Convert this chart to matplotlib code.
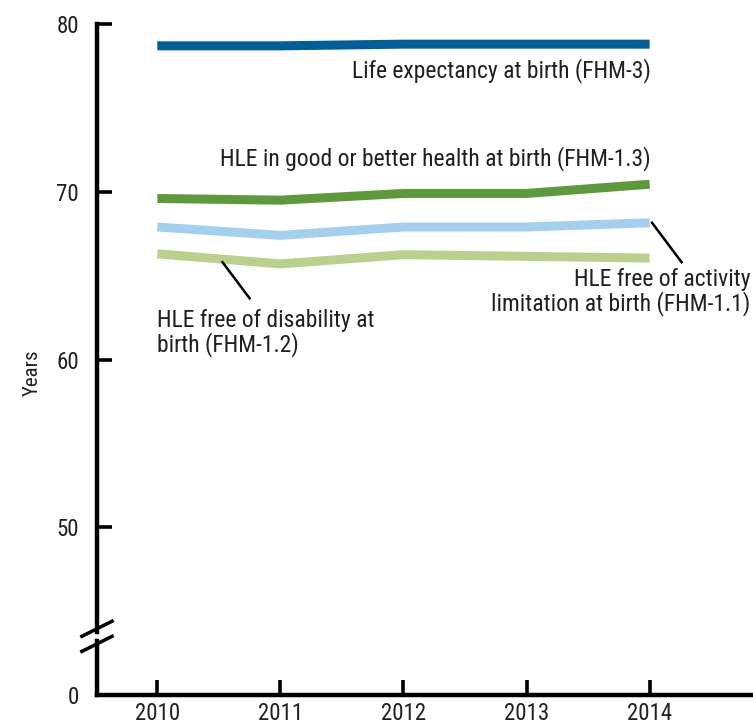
import matplotlib
matplotlib.use("Agg")
import matplotlib.pyplot as plt
from matplotlib import font_manager

years = [2010, 2011, 2012, 2013, 2014]
life_exp = [78.7, 78.7, 78.8, 78.8, 78.8]
hle_good = [69.6, 69.5, 69.9, 69.9, 70.45]
hle_activity = [67.9, 67.4, 67.9, 67.9, 68.15]
hle_disability = [66.3, 65.7, 66.25, 66.15, 66.05]

ytick_pos = [40, 50, 60, 70, 80]      # 40 on the broken axis stands for 0
ytick_labels = ["0", "50", "60", "70", "80"]

TXT = "#231f20"

# pick a narrow font if one is installed
fonts = font_manager.fontManager.ttflist
names = {f.name for f in fonts}
stretch = "normal"
if "Liberation Sans Narrow" in names:
    family = "Liberation Sans Narrow"
elif "Roboto Condensed" in names:
    family = "Roboto Condensed"
elif any(f.name == "DejaVu Sans" and "condensed" in str(f.stretch) for f in fonts):
    family = "DejaVu Sans"
    stretch = "condensed"
else:
    family = "Liberation Sans"
plt.rcParams["font.family"] = [family, "DejaVu Sans"]
plt.rcParams["font.stretch"] = stretch

FS = 17

fig = plt.figure(figsize=(7.53, 7.28), dpi=100)
ax = fig.add_axes([0.1288, 0.0453, 0.8712, 0.93])

series = [
    (life_exp, "#005f98"),
    (hle_good, "#5d9a3e"),
    (hle_activity, "#a5cfef"),
    (hle_disability, "#b9d18c"),
]
for vals, col in series:
    ax.plot(years, vals, color=col, lw=6.5, solid_capstyle="butt")

ax.set_xlim(2009.51, 2014.84)
ax.set_ylim(40, 80.36)

# spines: bottom only, left drawn by hand with a break
for s in ["top", "right", "left"]:
    ax.spines[s].set_visible(False)
ax.spines["bottom"].set_linewidth(3.2)

ytr = ax.get_yaxis_transform()
ax.plot([0, 0], [40, 43.25], color="black", lw=3.2, transform=ytr,
        clip_on=False, solid_capstyle="projecting")
ax.plot([0, 0], [43.75, 80], color="black", lw=3.2, transform=ytr,
        clip_on=False, solid_capstyle="projecting")
for yc in [43.95, 43.05]:
    ax.plot([-0.023, 0.023], [yc - 0.45, yc + 0.45], color="black", lw=2.5,
            transform=ytr, clip_on=False)

ax.set_yticks(ytick_pos)
ax.set_yticklabels(ytick_labels)
ax.set_xticks(years)
ax.tick_params(axis="y", direction="in", length=11, width=2.6, pad=13,
               labelsize=16.5, labelcolor=TXT)
ax.tick_params(axis="x", direction="in", length=11, width=2.6, pad=5,
               labelsize=16.5, labelcolor=TXT)
ax.set_ylabel("Years", fontsize=15, color=TXT)
ax.yaxis.set_label_coords(-0.084, 0.476)

ax.text(2014.01, 77.25, "Life expectancy at birth (FHM-3)", ha="right",
        va="center", fontsize=FS, color=TXT)
ax.text(2014.01, 72.0, "HLE in good or better health at birth (FHM-1.3)",
        ha="right", va="center", fontsize=FS, color=TXT)
ax.text(2014.82, 64.0, "HLE free of activity\nlimitation at birth (FHM-1.1)",
        ha="right", va="center", fontsize=FS, color=TXT, linespacing=1.0)
ax.text(2010.0, 61.6, "HLE free of disability at\nbirth (FHM-1.2)",
        ha="left", va="center", fontsize=FS, color=TXT, linespacing=1.0)

# leader lines
ax.plot([2014.02, 2014.26], [68.15, 65.8], color="black", lw=1.8)
ax.plot([2010.53, 2010.75], [65.8, 63.65], color="black", lw=1.8)

fig.savefig("out.png", dpi=100)
